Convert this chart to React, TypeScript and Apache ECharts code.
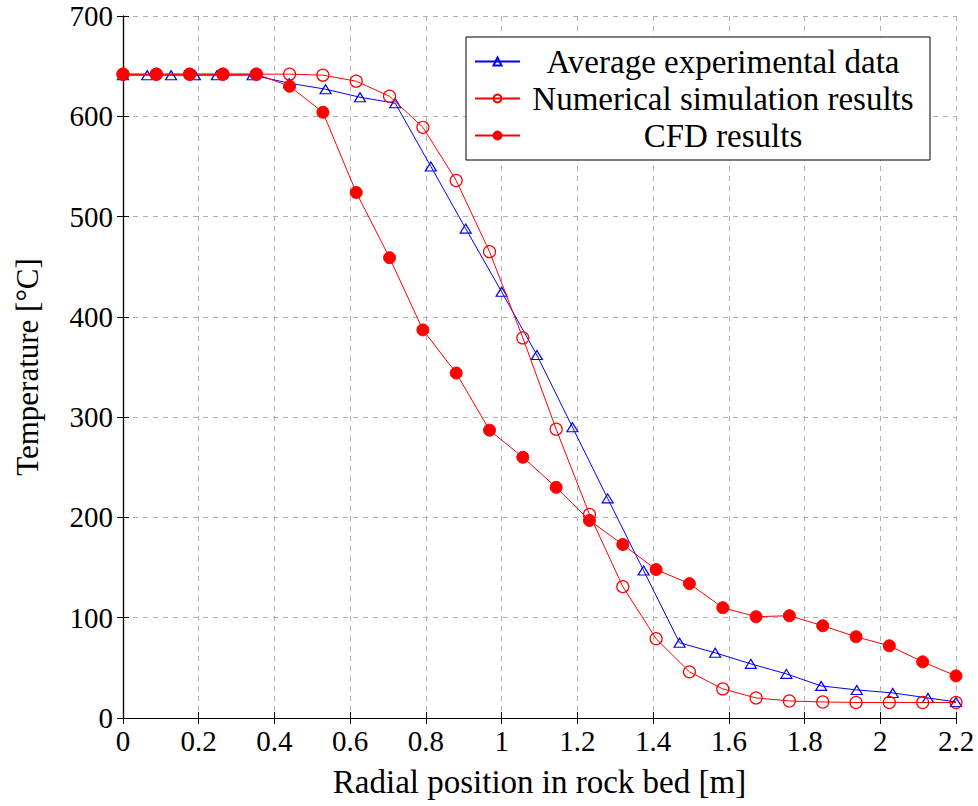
import React, { useEffect, useRef } from "react";
import * as echarts from "echarts";

const radialX = [0, 0.088, 0.176, 0.264, 0.352, 0.44, 0.528, 0.616, 0.704, 0.792, 0.88, 0.968, 1.056, 1.144, 1.232, 1.32, 1.408, 1.496, 1.584, 1.672, 1.76, 1.848, 1.936, 2.024, 2.112, 2.2];
const cfdT = [642, 642, 642, 642, 642, 630, 604, 524, 459, 387, 344, 287, 260, 230, 197, 173, 148, 134, 110, 101, 102, 92, 81, 72, 56, 42];
const numT = [642, 642, 642, 642, 642, 642, 641, 635, 620, 589, 536, 465, 379, 288, 203, 131, 79, 46, 29, 20, 17, 16, 15.5, 15.5, 15.5, 15.5];
const expX = [0, 0.064, 0.127, 0.19, 0.248, 0.342, 0.439, 0.535, 0.626, 0.719, 0.813, 0.905, 1.0, 1.093, 1.187, 1.28, 1.375, 1.47, 1.564, 1.658, 1.752, 1.844, 1.938, 2.033, 2.126, 2.2];
const expT = [641, 641, 641, 641, 641, 641, 633, 627, 619, 613, 550, 488, 425, 362, 290, 219, 147, 75, 65, 54, 44, 32, 28, 25, 20, 16];

const names = ["Average experimental data", "Numerical simulation results", "CFD results"];
const FONT = "'Liberation Serif', 'DejaVu Serif', serif";

export default function App() {
  const ref = useRef<HTMLDivElement>(null);
  useEffect(() => {
    if (!ref.current) return;
    const chart = echarts.init(ref.current, null, { renderer: "svg" });
    const pair = (xs: number[], ys: number[]) => xs.map((x, i) => [x, ys[i]]);
    const tickStyle = { inside: true, length: 6, lineStyle: { color: "#000", width: 1 } };
    const axisLine = { show: true, lineStyle: { color: "#000", width: 1.2 } };
    const grid = { show: true, lineStyle: { color: "#b0b0b0", type: [5, 5] as any, width: 1 } };
    const fmt = (v: number) => String(parseFloat(v.toFixed(2)));
    chart.setOption({
      animation: false,
      backgroundColor: "#fff",
      textStyle: { fontFamily: FONT },
      grid: { left: 123, right: 22, top: 16, bottom: 88, containLabel: false },
      legend: {
        data: names,
        orient: "vertical",
        left: 466,
        top: 37,
        padding: [8, 9, 8, 8],
        itemGap: 4,
        itemWidth: 45,
        itemHeight: 10,
        backgroundColor: "#fff",
        borderColor: "#000",
        borderWidth: 1,
        borderRadius: 0,
        formatter: (n: string) => "{c|" + n + "}",
        textStyle: {
          fontFamily: FONT,
          fontSize: 33,
          lineHeight: 33,
          color: "#000",
          rich: { c: { width: 396, align: "center", fontFamily: FONT, fontSize: 33, lineHeight: 33, color: "#000" } },
        },
      },
      xAxis: [
        {
          type: "value",
          min: 0,
          max: 2.2,
          interval: 0.2,
          name: "Radial position in rock bed [m]",
          nameLocation: "middle",
          nameGap: 47,
          nameTextStyle: { fontFamily: FONT, fontSize: 33, color: "#000" },
          axisLine,
          axisTick: tickStyle,
          splitLine: grid,
          axisLabel: { fontFamily: FONT, fontSize: 29, color: "#000", margin: 8, formatter: fmt },
        },
        {
          type: "value",
          position: "top",
          min: 0,
          max: 2.2,
          interval: 0.2,
          axisLine,
          axisTick: tickStyle,
          splitLine: { show: false },
          axisLabel: { show: false },
        },
      ],
      yAxis: [
        {
          type: "value",
          min: 0,
          max: 700,
          interval: 100,
          name: "Temperature [°C]",
          nameLocation: "middle",
          nameGap: 80,
          nameTextStyle: { fontFamily: FONT, fontSize: 31, color: "#000" },
          axisLine,
          axisTick: tickStyle,
          splitLine: grid,
          axisLabel: { fontFamily: FONT, fontSize: 29, color: "#000", margin: 10 },
        },
        {
          type: "value",
          position: "right",
          min: 0,
          max: 700,
          interval: 100,
          axisLine,
          axisTick: tickStyle,
          splitLine: { show: false },
          axisLabel: { show: false },
        },
      ],
      series: [
        {
          name: names[0],
          type: "line",
          data: pair(expX, expT),
          symbol: "triangle",
          symbolSize: [11, 9],
          showAllSymbol: true,
          lineStyle: { color: "#0000ff", width: 1 },
          itemStyle: { color: "rgba(255,255,255,0)", borderColor: "#0000ff", borderWidth: 1.2 },
          z: 2,
        },
        {
          name: names[1],
          type: "line",
          data: pair(radialX, numT),
          symbol: "circle",
          symbolSize: 12,
          showAllSymbol: true,
          lineStyle: { color: "#ff0000", width: 1 },
          itemStyle: { color: "rgba(255,255,255,0)", borderColor: "#ff0000", borderWidth: 1.2 },
          z: 3,
        },
        {
          name: names[2],
          type: "line",
          data: pair(radialX, cfdT),
          symbol: "circle",
          symbolSize: 12,
          showAllSymbol: true,
          lineStyle: { color: "#ff0000", width: 1 },
          itemStyle: { color: "#ff0000", borderColor: "#ff0000", borderWidth: 1 },
          z: 4,
        },
      ],
    });
    return () => chart.dispose();
  }, []);
  return <div ref={ref} style={{ width: 978, height: 806, position: "absolute", left: 0, top: 0 }} />;
}
